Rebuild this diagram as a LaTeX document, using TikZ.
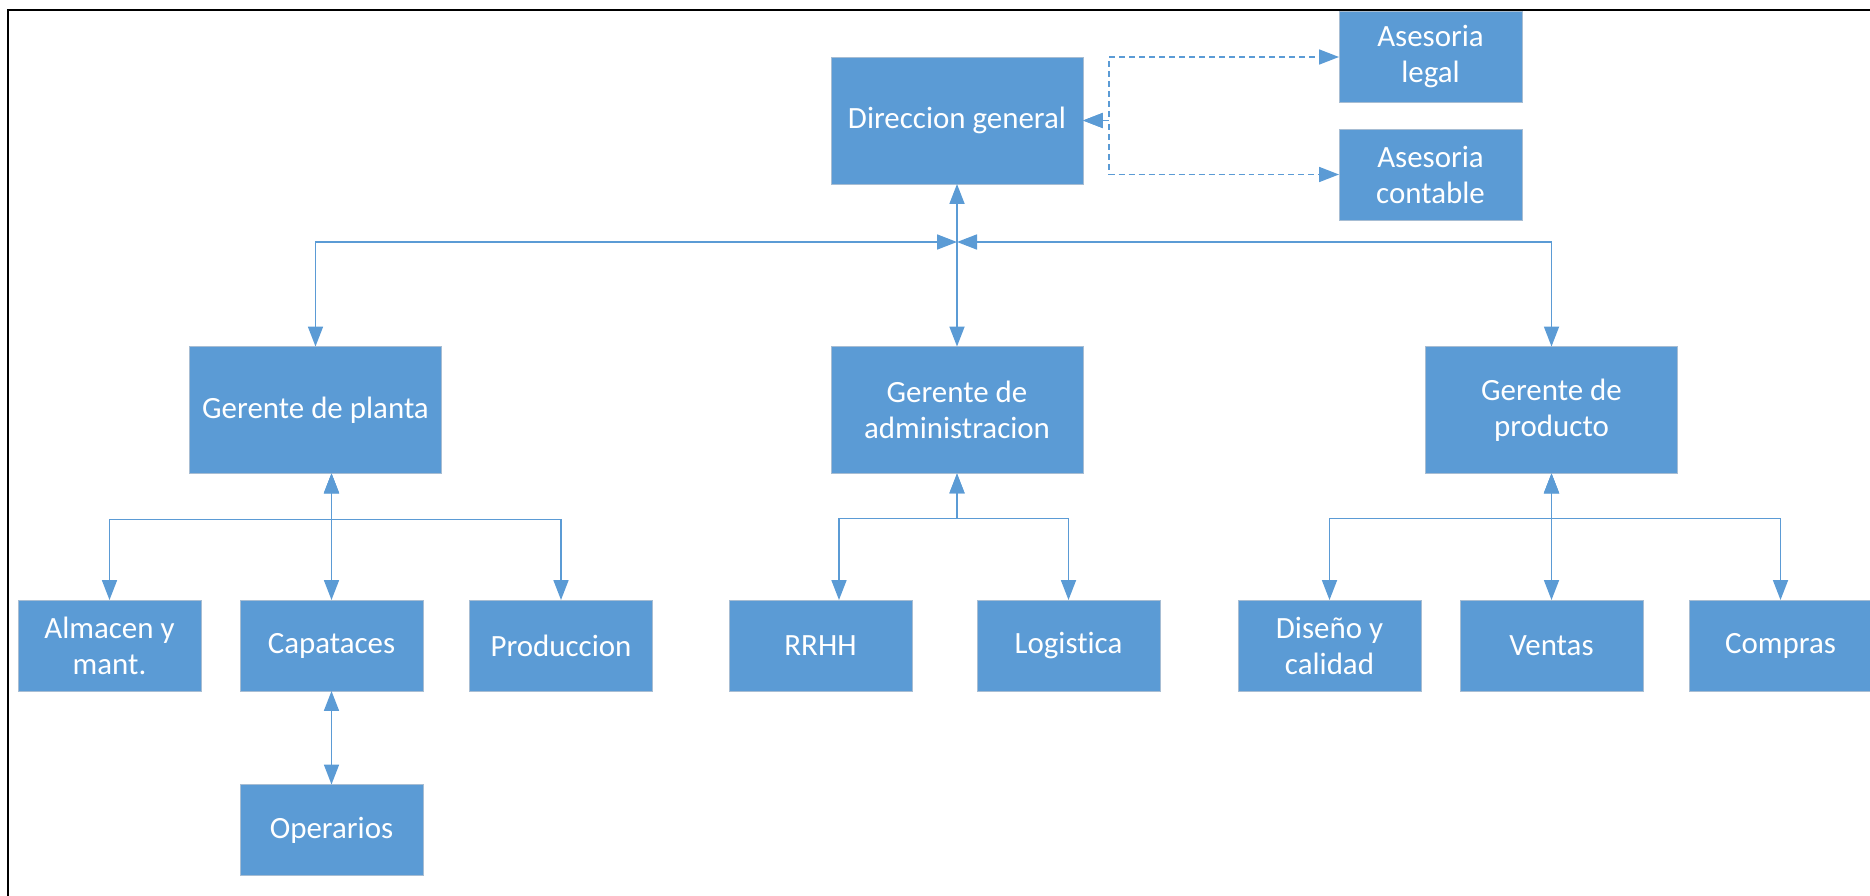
\documentclass[tikz,border=0pt]{standalone}
\usepackage{fontspec}
\setmainfont{Carlito}[Ligatures={NoCommon}]
\usetikzlibrary{positioning,calc,arrows.meta}
\definecolor{orgblue}{HTML}{5B9BD5}
\definecolor{orgedge}{HTML}{A7BDD3}
\newcommand{\onode}[4]{\node [#1] (#2) at (#3) {#4}}
\tikzset{
  box/.style={fill=orgblue, draw=orgedge, line width=0.4pt, text=white, align=center,
    inner sep=0pt, outer sep=0pt, font=\fontsize{17.6}{20.5}\selectfont},
  bigbox/.style={box, minimum width=5.04cm, minimum height=2.54cm},
  smallbox/.style={box, minimum width=3.66cm, minimum height=1.82cm},
  >={Triangle[length=0.4cm,width=0.3cm]},
  link/.style={<->, draw=orgblue, line width=1pt},
  dlink/.style={link, dash pattern=on 0.12cm off 0.08cm}
}
\begin{document}
\begin{tikzpicture}[x=0.02cm, y=-0.02cm]

\useasboundingbox (0,0) rectangle (1870,896);
\draw[line width=1.5pt] (8,896) -- (8,10) -- (1870,10);

\onode{bigbox}{dir}{957,120.5}{Direccion general};
\onode{smallbox}{legal}{1430.5,57}{Asesoria\\legal};
\onode{smallbox}{contable}{1430.5,174.5}{Asesoria\\contable};

\onode{bigbox}{gplanta}{315.5,410}{Gerente de planta};
\onode{bigbox}{gadmin}{957,410}{Gerente de\\administracion};
\onode{bigbox}{gprod}{1551.5,410}{Gerente de\\producto};

\onode{smallbox}{almacen}{109.5,645.5}{Almacen y\\mant.};
\onode{smallbox}{capataces}{331.5,645.5}{Capataces};
\onode{smallbox}{produccion}{561,645.5}{Produccion};
\onode{smallbox}{operarios}{331.5,830}{Operarios};

\onode{smallbox}{rrhh}{820.5,645.5}{RRHH};
\onode{smallbox}{logistica}{1068.5,645.5}{Logistica};

\onode{smallbox}{diseno}{1329.5,645.5}{Diseño y\\calidad};
\onode{smallbox}{ventas}{1551.5,645.5}{Ventas};
\onode{smallbox}{compras}{1780.5,645.5}{Compras};

\coordinate (hub) at (957,242);

\draw[dlink] (dir.east) -- ++(26,0) |- (legal.west);
\draw[dlink] (dir.east) -- ++(26,0) |- (contable.west);

\draw[link] (dir.south) -- (gadmin.north);
\draw[link] (gplanta.north) |- (hub);
\draw[link] (gprod.north) |- (hub);

\draw[link] (gplanta.south -| capataces.north) -- ++(0,46) -| (almacen.north);
\draw[link] (gplanta.south -| capataces.north) -- (capataces.north);
\draw[link] (gplanta.south -| capataces.north) -- ++(0,46) -| (produccion.north);
\draw[link] (capataces.south) -- (operarios.north);

\draw[link] (gadmin.south) -- ++(0,45) -| ([xshift=0.37cm]rrhh.north);
\draw[link] (gadmin.south) -- ++(0,45) -| (logistica.north);

\draw[link] (gprod.south) -- ++(0,45) -| (diseno.north);
\draw[link] (gprod.south) -- (ventas.north);
\draw[link] (gprod.south) -- ++(0,45) -| (compras.north);

\end{tikzpicture}
\end{document}
